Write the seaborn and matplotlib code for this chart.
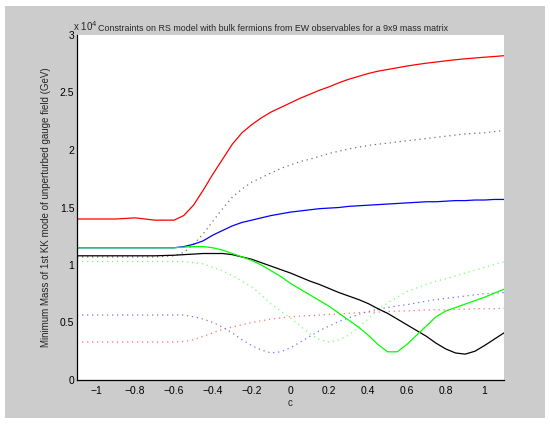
import numpy as np
import pandas as pd
import matplotlib
matplotlib.use("Agg")
import matplotlib.pyplot as plt
import seaborn as sns
from matplotlib.patches import Rectangle

# ----- Dados (massa em unidades de 10^4 GeV) -----
c = [-1.1, -1.0, -0.9, -0.8, -0.7, -0.6, -0.55, -0.5, -0.45, -0.4,
     -0.35, -0.3, -0.25, -0.2, -0.15, -0.1, -0.05, 0.0, 0.05, 0.1,
     0.15, 0.2, 0.25, 0.3, 0.35, 0.4, 0.45, 0.5, 0.55, 0.6,
     0.65, 0.7, 0.75, 0.8, 0.85, 0.9, 0.95, 1.0, 1.05, 1.1]

red_solid = [1.40, 1.40, 1.40, 1.41, 1.39, 1.39, 1.43, 1.52, 1.65, 1.79,
             1.92, 2.05, 2.15, 2.22, 2.28, 2.33, 2.37, 2.41, 2.45, 2.485,
             2.52, 2.55, 2.585, 2.615, 2.64, 2.665, 2.685, 2.70, 2.715, 2.73,
             2.743, 2.755, 2.765, 2.775, 2.785, 2.793, 2.80, 2.807, 2.813, 2.82]

black_dotted = [1.07, 1.07, 1.07, 1.07, 1.07, 1.08, 1.11, 1.18, 1.27, 1.38,
                1.49, 1.59, 1.66, 1.72, 1.76, 1.80, 1.84, 1.87, 1.90, 1.92,
                1.945, 1.97, 1.99, 2.01, 2.025, 2.04, 2.05, 2.06, 2.07, 2.08,
                2.09, 2.10, 2.11, 2.12, 2.13, 2.14, 2.145, 2.15, 2.16, 2.17]

blue_solid = [1.15, 1.15, 1.15, 1.15, 1.15, 1.15, 1.16, 1.18, 1.21, 1.26,
              1.30, 1.34, 1.37, 1.39, 1.41, 1.43, 1.445, 1.46, 1.47, 1.48,
              1.49, 1.495, 1.50, 1.51, 1.515, 1.52, 1.525, 1.53, 1.535, 1.54,
              1.545, 1.55, 1.55, 1.555, 1.56, 1.56, 1.565, 1.565, 1.57, 1.57]

green_solid = [1.15, 1.15, 1.15, 1.15, 1.15, 1.15, 1.155, 1.16, 1.16, 1.15,
               1.13, 1.10, 1.07, 1.04, 1.00, 0.95, 0.90, 0.84, 0.79, 0.74,
               0.69, 0.64, 0.58, 0.52, 0.46, 0.39, 0.31, 0.245, 0.245, 0.31,
               0.39, 0.47, 0.55, 0.60, 0.63, 0.66, 0.69, 0.72, 0.755, 0.79]

black_solid = [1.08, 1.08, 1.08, 1.08, 1.08, 1.085, 1.09, 1.095, 1.10, 1.10,
               1.10, 1.09, 1.07, 1.05, 1.02, 0.99, 0.96, 0.93, 0.895, 0.86,
               0.83, 0.795, 0.76, 0.73, 0.70, 0.665, 0.62, 0.58, 0.53, 0.48,
               0.43, 0.38, 0.32, 0.27, 0.235, 0.225, 0.25, 0.30, 0.355, 0.41]

green_dotted = [1.03, 1.03, 1.03, 1.03, 1.03, 1.03, 1.03, 1.02, 1.01, 0.98,
                0.95, 0.91, 0.86, 0.81, 0.74, 0.66, 0.60, 0.54, 0.47, 0.40,
                0.35, 0.33, 0.35, 0.39, 0.46, 0.53, 0.61, 0.67, 0.72, 0.77,
                0.80, 0.83, 0.86, 0.88, 0.905, 0.93, 0.955, 0.98, 1.005, 1.03]

blue_dotted = [0.565, 0.565, 0.565, 0.565, 0.565, 0.565, 0.565, 0.55, 0.53, 0.50,
               0.46, 0.41, 0.35, 0.30, 0.26, 0.235, 0.245, 0.28, 0.33, 0.38,
               0.43, 0.47, 0.51, 0.54, 0.57, 0.595, 0.615, 0.63, 0.645, 0.655,
               0.67, 0.685, 0.70, 0.71, 0.72, 0.73, 0.74, 0.75, 0.755, 0.76]

red_dotted = [0.33, 0.33, 0.33, 0.33, 0.33, 0.33, 0.335, 0.35, 0.38, 0.41,
              0.44, 0.46, 0.48, 0.50, 0.515, 0.53, 0.54, 0.55, 0.555, 0.56,
              0.565, 0.57, 0.575, 0.58, 0.585, 0.59, 0.59, 0.595, 0.60, 0.60,
              0.605, 0.61, 0.61, 0.61, 0.615, 0.615, 0.62, 0.62, 0.62, 0.625]

x_ticks = [-1, -0.8, -0.6, -0.4, -0.2, 0, 0.2, 0.4, 0.6, 0.8, 1]
y_ticks = [0, 0.5, 1, 1.5, 2, 2.5, 3]

# ----- Estilo -----
sns.set_style("white")
plt.rcParams['font.family'] = ['Liberation Sans', 'DejaVu Sans']

fig = plt.figure(figsize=(5.5, 4.24), dpi=100, facecolor='white')
# fundo cinza estilo MATLAB
fig.patches.append(Rectangle((5/550, 6/424), 540/550, 412/424, transform=fig.transFigure,
                             facecolor='#cccccc', edgecolor='none', zorder=-1))
ax = fig.add_axes([77/550, 44/424, 427/550, 345/424])
ax.set_facecolor('white')

ponto = (0, (1, 3))
series = [
    (red_dotted, '#ff7070', ponto),
    (blue_dotted, '#7070ff', ponto),
    (green_dotted, '#70ff70', ponto),
    (black_dotted, '#707070', ponto),
    (red_solid, '#ff0000', '-'),
    (blue_solid, '#0000ff', '-'),
    (black_solid, '#000000', '-'),
    (green_solid, '#00ff00', '-'),
]
for vals, cor, estilo in series:
    sns.lineplot(x=c, y=vals, color=cor, linestyle=estilo, linewidth=0.9, ax=ax)

ax.set_xlim(-1.1, 1.1)
ax.set_ylim(0, 3)
ax.set_xticks(x_ticks)
ax.set_yticks(y_ticks)
ax.set_xticklabels([f'{t:g}'.replace('-', '\u2212') for t in x_ticks])
ax.set_yticklabels([f'{t:g}' for t in y_ticks])
ax.tick_params(direction='in', length=3, width=0.8, labelsize=7.5, colors='black')
ax.tick_params(axis='x', pad=4)
ax.tick_params(axis='y', pad=2)
for s in ['top', 'right']:
    ax.spines[s].set_visible(False)
for s in ['left', 'bottom']:
    ax.spines[s].set_color('black')
    ax.spines[s].set_linewidth(0.9)

ax.set_xlabel('c', fontsize=7, labelpad=2)
ax.set_ylabel('Minimum Mass of 1st KK mode of unperturbed gauge field (GeV)', fontsize=7, labelpad=6)
ax.text(-0.01, 1.005, 'x 10$^{4}$', transform=ax.transAxes, fontsize=7, ha='left', va='bottom')
ax.text(0.46, 1.005, 'Constraints on RS model with bulk fermions from EW observables for a 9x9 mass matrix',
        transform=ax.transAxes, fontsize=6.4, ha='center', va='bottom')

fig.savefig('out.png', dpi=100, facecolor=fig.get_facecolor())
